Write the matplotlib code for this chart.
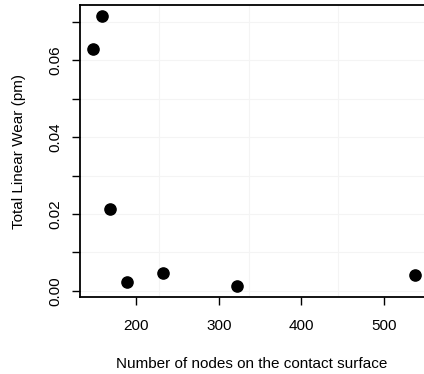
import matplotlib
matplotlib.use('Agg')
import matplotlib.pyplot as plt

# number of nodes vs total linear wear
nodes = [147.8, 158.7, 168.0, 189.0, 231.6, 321.5, 537.4]
wear = [0.0628, 0.0715, 0.0213, 0.0024, 0.0046, 0.0012, 0.0042]

x_ticks = [200, 300, 400, 500]
y_ticks = [0.00, 0.01, 0.02, 0.03, 0.04, 0.05, 0.06, 0.07]
y_labels = ['0.00', '', '0.02', '', '0.04', '', '0.06', '']
x_grid = [227, 336, 444]

plt.rcParams['font.family'] = ['Liberation Sans', 'DejaVu Sans']

fig = plt.figure(figsize=(4.24, 3.74), dpi=100)
ax = fig.add_axes([0.1887, 0.2059, 0.8113, 0.7807])

for g in y_ticks:
    ax.axhline(g, color='#f4f4f4', lw=0.8, zorder=0)
for g in x_grid:
    ax.axvline(g, color='#f4f4f4', lw=0.8, zorder=0)

ax.scatter(nodes, wear, s=65, c='black', zorder=3, clip_on=False)

ax.set_xlim(131.6, 548.6)
ax.set_ylim(-0.00156, 0.0743)
ax.set_xticks(x_ticks)
ax.set_yticks(y_ticks)
ax.set_yticklabels(y_labels, rotation=90, va='center')

ax.spines['right'].set_visible(False)
for s in ['left', 'top', 'bottom']:
    ax.spines[s].set_linewidth(1.3)

ax.tick_params(axis='both', direction='out', length=6, width=1.0, labelsize=11)
ax.tick_params(axis='y', pad=7)
ax.tick_params(axis='x', pad=10)

ax.set_xlabel('Number of nodes on the contact surface', fontsize=11, labelpad=17)
ax.set_ylabel('Total Linear Wear (pm)', fontsize=11, labelpad=16)

fig.savefig('out.png', dpi=100)
